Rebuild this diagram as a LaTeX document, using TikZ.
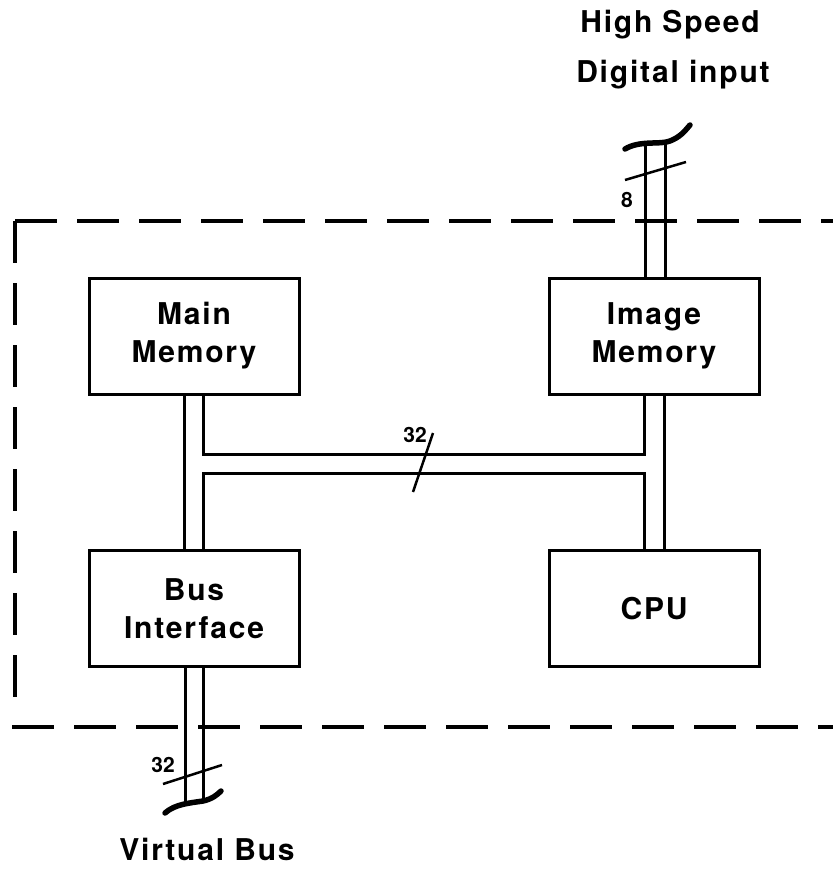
\documentclass[tikz,border=0pt]{standalone}
\usepackage{fontspec}
\setmainfont{TeX Gyre Heros}
\usetikzlibrary{positioning}

\begin{document}
\begin{tikzpicture}[
    x=1pt, y=-1pt,
    box/.style={draw, line width=3pt, minimum width=210pt, minimum height=116pt, align=center, font=\fontsize{30}{38}\selectfont\bfseries\addfontfeature{LetterSpace=6}},
    caption/.style={anchor=base, inner sep=0pt, font=\fontsize{30}{38}\selectfont\bfseries\addfontfeature{LetterSpace=6}},
    buswd/.style={font=\fontsize{21}{21}\selectfont\bfseries, inner sep=0pt},
    bus/.style={line width=3pt},
    brk/.style={line width=5.5pt, line cap=round},
    slash/.style={line width=2.5pt},
    frame/.style={line width=4pt, dash pattern=on 42pt off 20pt},
]
\useasboundingbox (0,0) rectangle (833,880);

% units
\node[box] (mainmem) at (194,336) {Main\\Memory};
\node[box, right=247pt of mainmem] (imgmem) {Image\\Memory};
\node[box, below=153.5pt of mainmem] (busif) {Bus\\Interface};
\node[box, below=153.5pt of imgmem] (cpu) {CPU};

% bus levels and cut ends
\coordinate (hbtop) at (0,454);
\coordinate (hbbot) at (0,473);
\coordinate (hsin) at (654,144);
\coordinate (vbus) at (192,802);

% internal bus
\draw[bus] ([xshift=-9.5pt]mainmem.south) -- ([xshift=-9.5pt]busif.north);
\draw[bus] ([xshift=9.5pt]mainmem.south) -- ([xshift=9.5pt]mainmem.south |- hbtop)
    -- ([xshift=-10pt]imgmem.south |- hbtop) -- ([xshift=-10pt]imgmem.south);
\draw[bus] ([xshift=9.5pt]busif.north) -- ([xshift=9.5pt]busif.north |- hbbot)
    -- ([xshift=-10pt]cpu.north |- hbbot) -- ([xshift=-10pt]cpu.north);
\draw[bus] ([xshift=10pt]imgmem.south) -- ([xshift=10pt]cpu.north);
\draw[slash] (433,433) -- (413,492);
\node[buswd] (n32a) at (415,435) {32};

% digital input
\draw[bus] ([xshift=-9pt]imgmem.north) -- ([xshift=-9pt]imgmem.north |- hsin);
\draw[bus] ([xshift=11pt]imgmem.north) -- ([xshift=11pt]imgmem.north |- hsin);
\draw[brk] (625,149) .. controls (640,140) and (660,145) .. (670,141) .. controls (680,137) and (684,132) .. (690,125);
\draw[slash] (625,180) -- (686,162);
\node[buswd] (n8) at (627,200) {8};
\node[caption] (hs) at (670,33) {High Speed};
\node[caption] (di) at (673,83) {Digital input};

% virtual bus
\draw[bus] ([xshift=-9pt]busif.south) -- ([xshift=-9pt]busif.south |- vbus);
\draw[bus] ([xshift=9pt]busif.south) -- ([xshift=9pt]busif.south |- vbus);
\draw[brk] (165,813) .. controls (175,804) and (190,803) .. (203,801) .. controls (212,799) and (217,795) .. (221,791);
\draw[slash] (163,784) -- (222,765);
\node[buswd] (n32b) at (163,765) {32};
\node[caption] (vb) at (207,860) {Virtual Bus};

% board boundary
\coordinate (fnw) at (15,221);
\coordinate (fsw) at (12,727);
\draw[frame] (fnw) -- (833,221);
\draw[frame] (fnw) -- (15,712);
\draw[frame] (fsw) -- (833,727);

\end{tikzpicture}
\end{document}
